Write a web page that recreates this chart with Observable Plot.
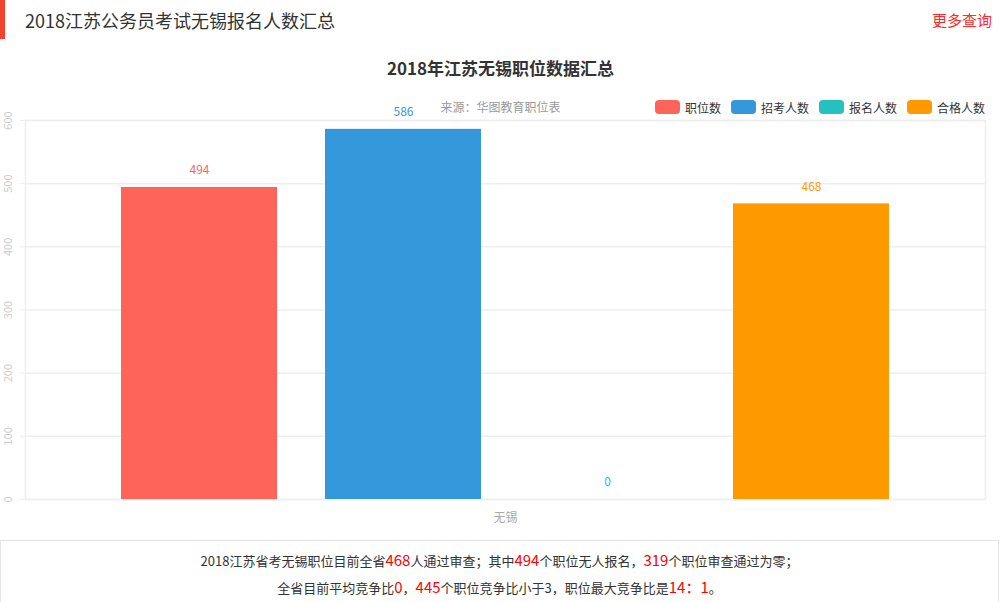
<!DOCTYPE html>
<html>
<head>
<meta charset="utf-8">
<script src="https://cdn.jsdelivr.net/npm/d3@7"></script>
<script src="https://cdn.jsdelivr.net/npm/@observablehq/plot@0.6"></script>
<style>
  html, body { margin: 0; padding: 0; background: #fff; }
  body { width: 1001px; height: 602px; position: relative; overflow: hidden;
         font-family: "Noto Sans CJK SC", "Noto Sans", sans-serif; color: #333; }
  #bar { position: absolute; left: 0; top: 0; width: 5px; height: 39px; background: #f5412f; }
  #head { position: absolute; left: 25px; top: 0; line-height: 40px; font-size: 18px; color: #333; }
  #more { position: absolute; right: 9px; top: 0; line-height: 40px; font-size: 15px; color: #ff2a2a; }
  #ctitle { position: absolute; left: 0; width: 1001px; top: 54px; line-height: 28px; text-align: center;
            font-size: 17px; font-weight: bold; color: #333; }
  #sub { position: absolute; left: 0; width: 1001px; top: 98px; line-height: 18px; text-align: center;
         font-size: 12px; color: #999; }
  #legend { position: absolute; right: 16px; top: 98px; height: 18px; display: flex; align-items: center;
            font-size: 12px; color: #333; }
  #legend .item { display: flex; align-items: center; margin-left: 10px; }
  #legend .sw { width: 25px; height: 14px; border-radius: 4px; margin-right: 5px; }
  #chart { position: absolute; left: 0; top: 95px; }
  #box { position: absolute; left: 0; top: 540px; width: 999px; height: 80px; border: 1px solid #e5e5e5;
         text-align: center; font-size: 13px; color: #333; line-height: 26px; padding-top: 6px; box-sizing: border-box; }
  #box .r { color: #f00; font-size: 15px; }
</style>
</head>
<body>
<div id="bar"></div>
<div id="head"></div>
<div id="more"></div>
<div id="ctitle"></div>
<div id="sub"></div>
<div id="legend"></div>
<div id="chart"></div>
<div id="box"></div>
<script>
// ---- data ----
const pageTitle = "2018江苏公务员考试无锡报名人数汇总";
const moreLink = "更多查询";
const chartTitle = "2018年江苏无锡职位数据汇总";
const subtitle = "来源：华图教育职位表";
const categories = ["无锡"];
const series = ["职位数", "招考人数", "报名人数", "合格人数"];
const values = [494, 586, 0, 468];
const colors = ["#ff645a", "#3498db", "#26c0c0", "#ff9900"];
const yTicks = [0, 100, 200, 300, 400, 500, 600];
const summaryLine1 = ["2018江苏省考无锡职位目前全省", "468", "人通过审查；其中", "494", "个职位无人报名，", "319", "个职位审查通过为零；"];
const summaryLine2 = ["全省目前平均竞争比", "0", "，", "445", "个职位竞争比小于3，职位最大竞争比是", "14：1", "。"];

// ---- page text ----
document.getElementById("head").textContent = pageTitle;
document.getElementById("more").textContent = moreLink;
document.getElementById("ctitle").textContent = chartTitle;
document.getElementById("sub").textContent = subtitle;

const legend = document.getElementById("legend");
series.forEach((s, i) => {
  const it = document.createElement("div"); it.className = "item";
  const sw = document.createElement("div"); sw.className = "sw"; sw.style.background = colors[i];
  const t = document.createElement("span"); t.textContent = s;
  it.appendChild(sw); it.appendChild(t); legend.appendChild(it);
});

const box = document.getElementById("box");
[summaryLine1, summaryLine2].forEach(parts => {
  const line = document.createElement("div");
  parts.forEach((p, i) => {
    const sp = document.createElement("span");
    if (i % 2 === 1) sp.className = "r";
    sp.textContent = p;
    line.appendChild(sp);
  });
  box.appendChild(line);
});

// ---- chart ----
const data = series.map((s, i) => ({city: categories[0], series: s, value: values[i]}));

const chart = Plot.plot({
  width: 1001,
  height: 440,
  marginLeft: 25,
  marginRight: 16,
  marginTop: 25,
  marginBottom: 36,
  style: {color: "#aaa", fontSize: "12px", fontFamily: "'Noto Sans CJK SC', sans-serif", background: "transparent"},
  fx: {domain: categories, padding: 0, label: null, axis: null},
  x: {domain: series, axis: null, paddingInner: 0.235, paddingOuter: 0.47},
  y: {domain: [0, 600], axis: null},
  color: {domain: series, range: colors},
  marks: [
    Plot.gridY(yTicks, {stroke: "#eee", strokeOpacity: 1, strokeWidth: 1.5}),
    Plot.frame({stroke: "#eee", strokeWidth: 1.5}),
    Plot.axisY(yTicks, {tickSize: 5, tickFormat: () => "", label: null, stroke: "#eee", strokeOpacity: 1}),
    Plot.axisFx({anchor: "bottom", tickSize: 0, tickPadding: 14, label: null, fontSize: 12}),
    Plot.barY(data, {fx: "city", x: "series", y: "value", fill: "series"}),
    Plot.text(data, {fx: "city", x: "series", y: "value", text: d => String(d.value), fill: "series", dy: -17, fontSize: 12}),
    Plot.text(yTicks, {y: d => d, frameAnchor: "left", dx: -17, rotate: -90, text: d => String(d), fill: "#ccc", fontSize: 11, textAnchor: "middle"})
  ]
});
document.getElementById("chart").appendChild(chart);
</script>
</body>
</html>
